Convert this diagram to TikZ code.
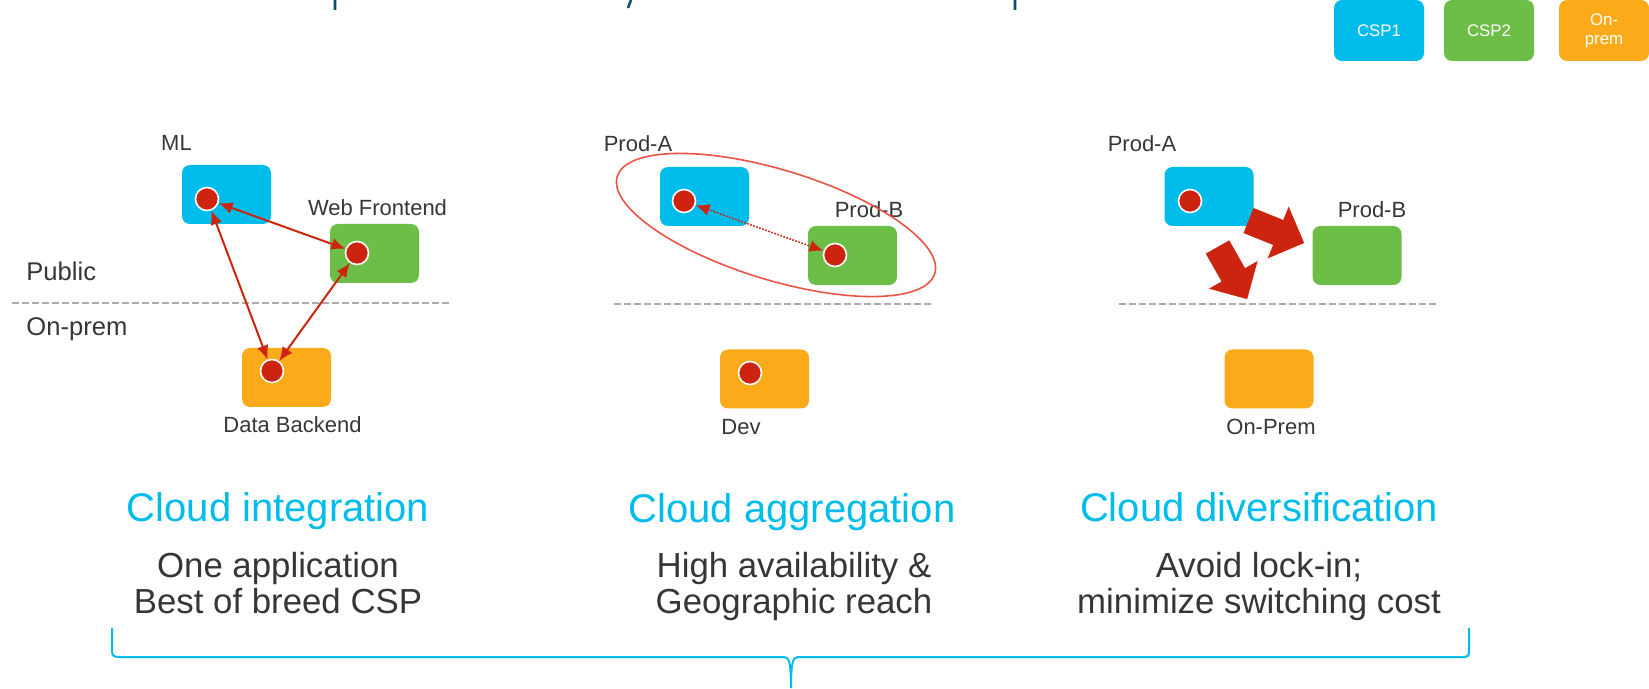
\documentclass[tikz,border=0pt]{standalone}
\usepackage{fontspec}
\setmainfont{Liberation Sans}
\usetikzlibrary{arrows.meta}
\definecolor{cspone}{HTML}{00BCEB}
\definecolor{csptwo}{HTML}{6DBE46}
\definecolor{onprem}{HTML}{FBAA19}
\definecolor{dotred}{HTML}{CD2410}
\definecolor{ringred}{HTML}{EA5444}
\definecolor{txtgray}{HTML}{363636}
\definecolor{titleblue}{HTML}{0B4F6C}
\newcommand{\blockarrow}[3]{\fill[dotred,shift={(#1,#2)},rotate=#3] (0,-13.5) -- (32,-13.5) -- (32,-28) -- (60,0) -- (32,28) -- (32,13.5) -- (0,13.5) -- cycle;}
\begin{document}
\begin{tikzpicture}[x=0.5pt,y=-0.5pt,
	box/.style={rounded corners=4pt,minimum width=44.5pt,minimum height=29.5pt,inner sep=0pt},
	dot/.style={circle,fill=dotred,draw=white,line width=0.8pt,minimum size=11.5pt,inner sep=0pt},
	lbl/.style={text=txtgray,font=\fontsize{11}{13}\selectfont,anchor=base,inner sep=0pt},
	zone/.style={text=txtgray,font=\fontsize{12.8}{15}\selectfont,anchor=base west,inner sep=0pt},
	head/.style={text=cspone,font=\fontsize{20}{24}\selectfont,anchor=base,inner sep=0pt},
	body/.style={text=txtgray,font=\fontsize{17.4}{18}\selectfont,anchor=base,align=center,inner sep=0pt},
	legend/.style={box,minimum width=45pt,minimum height=30.5pt,text=white,font=\fontsize{8.4}{9.5}\selectfont,align=center},
	link/.style={dotred,line width=1pt,{Latex[length=7pt,width=6pt]}-{Latex[length=7pt,width=6pt]}},
	divider/.style={gray!65,line width=0.6pt,dash pattern=on 3.5pt off 1.5pt}]
	\useasboundingbox (0,0) rectangle (1649,689);
	% cut-off title
	\draw[titleblue,line width=1.3pt] (335,0) -- (335,10) (631,0) -- (628,8) (1015,0) -- (1015,10);
	% legend
	\node[legend,fill=cspone] (csp1) at (1379,30.5) {CSP1};
	\node[legend,fill=csptwo] (csp2) at (1489,30.5) {CSP2};
	\node[legend,fill=onprem] (prem) at (1604,30.5) {On-\\prem};
	% cloud integration
	\node[zone] (public) at (26,281) {Public};
	\node[zone] (onprem) at (26,336) {On-prem};
	\draw[divider] (12,303) -- (452,303);
	\node[box,fill=cspone] (ml) at (226.5,194.5) {};
	\node[box,fill=csptwo] (web) at (374.5,253.5) {};
	\node[box,fill=onprem] (data) at (286.5,377.5) {};
	\node[lbl] (mllbl) at (176.5,151) {ML};
	\node[lbl] (weblbl) at (377.5,216) {Web Frontend};
	\node[lbl] (datalbl) at (292.5,433) {Data Backend};
	\node[dot] (mldot) at (207,199) {};
	\node[dot] (webdot) at (357,253) {};
	\node[dot] (datadot) at (272,371) {};
	\draw[link] (mldot) -- (webdot);
	\draw[link] (mldot) -- (datadot);
	\draw[link] (webdot) -- (datadot);
	% cloud aggregation
	\draw[divider] (614,304) -- (931,304);
	\node[box,fill=cspone] (proda) at (704.5,196.5) {};
	\node[box,fill=csptwo] (prodb) at (852.5,255.5) {};
	\node[box,fill=onprem] (dev) at (764.5,379) {};
	\node[lbl] (prodalbl) at (638,152) {Prod-A};
	\node[lbl] (prodblbl) at (869,218) {Prod-B};
	\node[lbl] (devlbl) at (741,435) {Dev};
	\node[dot] (proddota) at (684,201) {};
	\node[dot] (proddotb) at (835,255) {};
	\node[dot] (devdot) at (750,373) {};
	\draw[link,line width=0.8pt,dash pattern=on 0.8pt off 0.8pt] (proddota) -- (proddotb);
	\draw[ringred,line width=0.8pt,rotate around={-17:(776,225)}] (776,225) ellipse [x radius=83pt,y radius=27.5pt];
	% cloud diversification
	\draw[divider] (1119,304) -- (1436,304);
	\node[box,fill=cspone] (diva) at (1209,196.5) {};
	\node[box,fill=csptwo] (divb) at (1357,255.5) {};
	\node[box,fill=onprem] (divprem) at (1269,379) {};
	\node[lbl] (divalbl) at (1142,152) {Prod-A};
	\node[lbl] (divblbl) at (1372,218) {Prod-B};
	\node[lbl] (divpremlbl) at (1271,435) {On-Prem};
	\node[dot] (divdot) at (1190,201) {};
	\blockarrow{1248.5}{220.5}{-22}
	\blockarrow{1217.5}{247}{-60.4}
	% captions
	\node[head] (integ) at (278,522) {Cloud integration};
	\node[head] (aggr) at (792,523) {Cloud aggregation};
	\node[head] (divers) at (1259,522) {Cloud diversification};
	\node[body] (integtxt) at (278,613) {One application\\Best of breed CSP};
	\node[body] (aggrtxt) at (794,613) {High availability \&\\Geographic reach};
	\node[body] (diverstxt) at (1259,613) {Avoid lock-in;\\minimize switching cost};
	% brace
	\draw[cspone,line width=1pt] (112,628) -- (112,651) .. controls (112,656) and (114,657) .. (120,657) -- (784,657) .. controls (789,657) and (791,662) .. (791,688) .. controls (791,662) and (793,657) .. (798,657) -- (1462,657) .. controls (1468,657) and (1469,656) .. (1469,651) -- (1469,628);
\end{tikzpicture}
\end{document}
